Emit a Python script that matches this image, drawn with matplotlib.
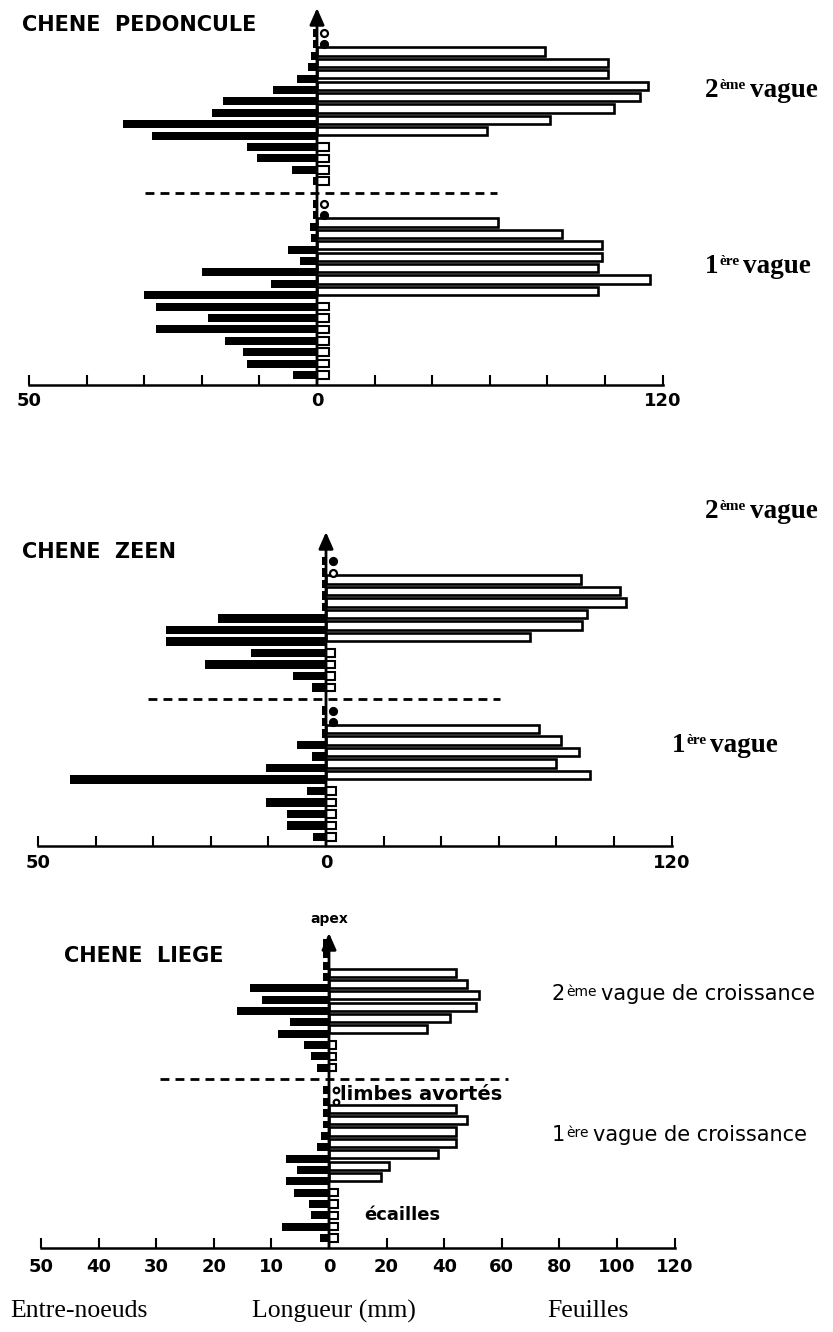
import numpy as np
import matplotlib
matplotlib.use("Agg")
import matplotlib.pyplot as plt

# ---- data (mm), listed from the base of the shoot up to the apex ----
# kind: E = écaille, F = feuille, o/p = ébauche (open / filled), a = limbe avorté, - = rien
ped_entre_1 = [4.2, 12.2, 12.9, 16, 28, 19, 28, 30, 8, 20, 3, 5, 1, 1.2, 0.7, 0.7]
ped_feuil_1 = [4, 4, 4, 4, 4, 4, 4, 97.6, 115.5, 97.6, 99, 99, 85, 63, 0, 0]
ped_kind_1 = "EEEEEEEFFFFFFFpo"
ped_entre_2 = [0.7, 4.4, 10.4, 12.2, 28.7, 33.7, 18.2, 16.3, 7.6, 3.5, 1.5, 1, 0.7, 0.7]
ped_feuil_2 = [4, 4, 4, 4, 59, 81, 103, 112, 115, 101, 101, 79, 0, 0]
ped_kind_2 = "EEEEFFFFFFFFpo"

zeen_entre_1 = [2.2, 6.7, 6.7, 10.5, 3.3, 44.5, 10.5, 2.4, 5, 0.7, 0.7, 0.7]
zeen_feuil_1 = [3.5, 3.5, 3.5, 3.5, 3.5, 91.6, 80, 88, 81.5, 74, 0, 0]
zeen_kind_1 = "EEEEEFFFFFpp"
zeen_entre_2 = [2.4, 5.7, 21, 13.1, 27.8, 27.8, 18.8, 0.7, 0.7, 0.7, 0.7, 0.7]
zeen_feuil_2 = [3, 3, 3, 3, 71, 89, 90.6, 104, 102, 88.5, 0, 0]
zeen_kind_2 = "EEEEFFFFFFop"

liege_entre_1 = [1.6, 8.2, 3.2, 3.5, 6, 7.5, 5.5, 7.5, 2, 1.4, 1, 1, 1, 1]
liege_feuil_1 = [3, 3, 3, 3, 3, 18, 21, 38, 44, 44, 48, 44, 0, 0]
liege_kind_1 = "EEEEEFFFFFFFaa"
liege_entre_2 = [2, 3.2, 4.4, 8.8, 6.8, 16, 11.6, 13.7, 1, 1, 1, 1]
liege_feuil_2 = [2.5, 2.5, 2.5, 34, 42, 51, 52, 48, 44, 0, 0, 0]
liege_kind_2 = "EEEFFFFFF---"

tick_vals = [-100, -80, -60, -40, -20, 0, 20, 40, 60, 80, 100, 120]
tick_full = ["50", "40", "30", "20", "10", "0", "20", "40", "60", "80", "100", "120"]
tick_short = ["50", "", "", "", "", "0", "", "", "", "", "", "120"]

W, H = 833, 1332
PX = 2.88  # pixels per mm of leaf; internodes use twice that scale
fig = plt.figure(figsize=(W / 100, H / 100), dpi=100)
fig.patch.set_facecolor("white")

ov = fig.add_axes([0, 0, 1, 1])
ov.set_xlim(0, W)
ov.set_ylim(H, 0)
ov.axis("off")


def draw_wave(ax, entre, feuil, kind, r0):
    r = r0 + np.arange(len(entre))
    feuil = np.array(feuil, dtype=float)
    kind = np.array(list(kind))
    ax.barh(r, -2 * np.array(entre), height=0.7, color="black", zorder=2)
    m = kind == "F"
    ax.barh(r[m] + 0.38, feuil[m], height=0.72, facecolor="white",
            edgecolor="black", lw=1.9, zorder=2)
    m = kind == "E"
    ax.barh(r[m], feuil[m], height=0.66, facecolor="white",
            edgecolor="black", lw=1.5, zorder=2)
    for k, mfc, ms in (("o", "white", 5), ("p", "black", 5), ("a", "white", 4)):
        m = kind == k
        ax.plot(np.full(m.sum(), 2.4), r[m], "o", mfc=mfc, mec="black",
                mew=1.6, ms=ms, zorder=3)


def panel(band, x0, y0, step, axis_px, arrow_px, dash_px, waves, labels, pad):
    top, bottom = band
    ax = fig.add_axes([0, 1 - bottom / H, 1, (bottom - top) / H])
    ax.set_xlim(-x0 / PX, (W - x0) / PX)
    ax.set_ylim((y0 - bottom) / step, (y0 - top) / step)
    ax.patch.set_alpha(0)
    axis_r = (y0 - axis_px) / step

    r0 = 0
    for i, (entre, feuil, kind) in enumerate(waves):
        draw_wave(ax, entre, feuil, kind, r0)
        r0 += len(entre)
        if i == 0:
            dx = [(p - x0) / PX for p in dash_px]
            ax.plot(dx, [r0, r0], color="black", lw=2, ls=(0, (3.2, 2.2)), zorder=2)
            r0 += 1

    ax.annotate("", xy=(0, (y0 - arrow_px) / step), xytext=(0, axis_r),
                arrowprops=dict(arrowstyle="-|>,head_length=0.5,head_width=0.22",
                                color="black", lw=2, mutation_scale=20,
                                shrinkA=0, shrinkB=0), zorder=6)

    for s in ("left", "right", "top"):
        ax.spines[s].set_visible(False)
    ax.spines["bottom"].set_position(("data", axis_r))
    ax.spines["bottom"].set_bounds(-100, 120)
    ax.spines["bottom"].set_linewidth(1.8)
    ax.set_yticks([])
    ax.set_xticks(tick_vals)
    ax.set_xticklabels(labels, fontsize=13, fontweight="bold")
    ax.tick_params(axis="x", direction="in", length=7, width=1.5, pad=pad)
    return ax


panel((0, 420), 317, 375, 11.4, 385, 8, (145, 497),
      [(ped_entre_1, ped_feuil_1, ped_kind_1), (ped_entre_2, ped_feuil_2, ped_kind_2)],
      tick_short, 5)
panel((430, 890), 326, 837, 11.5, 846, 532, (148, 500),
      [(zeen_entre_1, zeen_feuil_1, zeen_kind_1), (zeen_entre_2, zeen_feuil_2, zeen_kind_2)],
      tick_short, 6)
panel((890, 1290), 329, 1238, 11.35, 1248, 933, (160, 508),
      [(liege_entre_1, liege_feuil_1, liege_kind_1), (liege_entre_2, liege_feuil_2, liege_kind_2)],
      tick_full, 7)

# ---- titles ----
title_kw = dict(fontsize=15, fontweight="bold", family="DejaVu Sans", va="center")
ov.text(22, 25, "CHENE  PEDONCULE", **title_kw)
ov.text(22, 552, "CHENE  ZEEN", **title_kw)
ov.text(64, 956, "CHENE  LIEGE", **title_kw)


def vague(x, y, num, sup, rest, fs, sfs, **kw):
    t1 = ov.text(x, y, num, fontsize=fs, va="baseline", **kw)
    t2 = ov.annotate(sup, xy=(1, 1), xycoords=t1, xytext=(0.5, -1),
                     textcoords="offset points", fontsize=sfs, va="top", ha="left", **kw)
    ov.annotate(rest, xy=(1, 0), xycoords=(t2, t1), xytext=(3, 0),
                textcoords="offset points", fontsize=fs, va="bottom", ha="left", **kw)


serif = dict(family="Liberation Serif", fontweight="bold")
vague(705, 97, "2", "ème", "vague", 19.5, 11, **serif)
vague(705, 273, "1", "ère", "vague", 19.5, 11, **serif)
vague(705, 518, "2", "ème", "vague", 19.5, 11, **serif)
vague(672, 752, "1", "ère", "vague", 19.5, 11, **serif)

sans = dict(family="DejaVu Sans")
vague(552, 1000, "2", "ème", "vague de croissance", 15, 10, **sans)
vague(552, 1141, "1", "ère", "vague de croissance", 15, 10, **sans)

ov.text(329, 919, "apex", fontsize=10, fontweight="bold", ha="center", va="center")
ov.text(340, 1095, "limbes avortés", fontsize=14, fontweight="bold", va="center")
ov.text(364, 1215, "écailles", fontsize=13, fontweight="bold", va="center")

bot = dict(family="Liberation Serif", fontsize=18.5, va="center")
ov.text(10, 1311, "Entre-noeuds", **bot)
ov.text(252, 1311, "Longueur (mm)", **bot)
ov.text(547, 1311, "Feuilles", **bot)

fig.savefig("out.png", dpi=100, facecolor="white")
